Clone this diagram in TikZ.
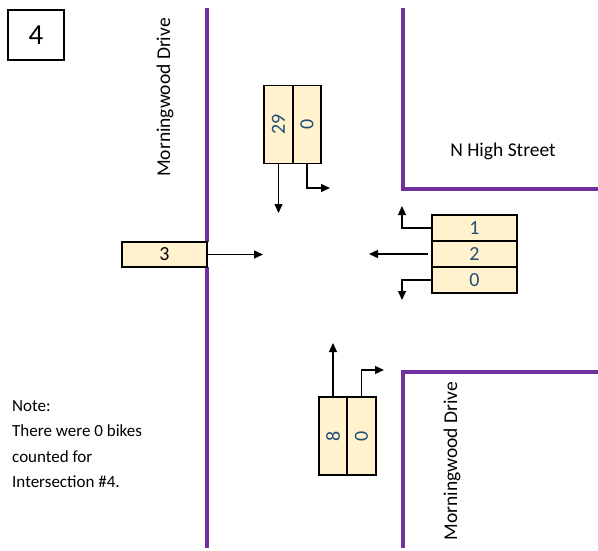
\documentclass[tikz,border=0pt]{standalone}
\usepackage{fontspec}
\setmainfont{Carlito}
\usepackage{xcolor}
\usetikzlibrary{arrows.meta}
\definecolor{roadpurple}{HTML}{7030A0}
\definecolor{cellfill}{HTML}{FFF2CC}
\definecolor{countblue}{HTML}{1F4E79}

\begin{document}
\begin{tikzpicture}[x=1pt, y=-1pt,
  road/.style={draw=roadpurple, line width=4pt},
  hcell/.style={rectangle, draw, line width=1.8pt, fill=cellfill, minimum width=85pt,
                minimum height=26pt, inner sep=0pt, text=countblue,
                font=\fontsize{20}{22}\selectfont},
  vcell/.style={rectangle, draw, line width=1.8pt, fill=cellfill, minimum width=28.5pt,
                minimum height=78pt, inner sep=0pt, text=countblue,
                font=\fontsize{20}{22}\selectfont},
  move/.style={-{Triangle[length=9pt,width=8pt]}, line width=1.3pt},
  streetname/.style={font=\fontsize{19.5}{22}\selectfont, inner sep=0pt}
]
\useasboundingbox (0,0) rectangle (598,550);

% Roads
\draw[road] (207,8) -- (207,242);
\draw[road] (207,267) -- (207,548);
\draw[road] (403,8) -- (403,189) -- (598,189);
\draw[road] (598,372) -- (403,372) -- (403,548);

% Intersection number
\node[rectangle, draw, line width=1.8pt, minimum width=56pt, minimum height=50pt,
      font=\fontsize{29}{30}\selectfont] at (36,35) (num) {4};

% Street names
\node[streetname, rotate=90] at (165,97.5) (westname)  {Morningwood Drive};
\node[streetname]            at (503,151)  (eastname)  {N High Street};
\node[streetname, rotate=90] at (452,461)  (southname) {Morningwood Drive};

% Southbound approach (north leg)
\node[vcell] at (278.5,124.5) (sb_thru)  {\rotatebox{90}{29}};
\node[vcell] at (307,124.5)   (sb_left)  {\rotatebox{90}{0}};
\coordinate (sb_thru_end) at (278.5,213);
\coordinate (sb_left_bend) at (307,188);
\coordinate (sb_left_end) at (330,188);
\draw[move] (sb_thru.south) -- (sb_thru_end);
\draw[move] (sb_left.south) -- (sb_left_bend) -- (sb_left_end);

% Eastbound approach (west leg)
\node[hcell, minimum height=25pt, text=black] at (164.5,254.5) (eb_thru) {3};
\coordinate (eb_thru_end) at (263,254.5);
\draw[move] (eb_thru.east) -- (eb_thru_end);

% Westbound approach (east leg)
\node[hcell] at (474.5,228) (wb_right) {1};
\node[hcell] at (474.5,254) (wb_thru)  {2};
\node[hcell] at (474.5,280) (wb_left)  {0};
\coordinate (wb_right_bend) at (402,228);
\coordinate (wb_right_end) at (402,206);
\coordinate (wb_thru_start) at (428,254);
\coordinate (wb_thru_end) at (369,254);
\coordinate (wb_left_bend) at (402,280);
\coordinate (wb_left_end) at (402,300);
\draw[move] (wb_right.west) -- (wb_right_bend) -- (wb_right_end);
\draw[move] (wb_thru_start) -- (wb_thru_end);
\draw[move] (wb_left.west) -- (wb_left_bend) -- (wb_left_end);

% Northbound approach (south leg)
\node[vcell] at (333,436)   (nb_thru)  {\rotatebox{90}{8}};
\node[vcell] at (361.5,436) (nb_right) {\rotatebox{90}{0}};
\coordinate (nb_thru_end) at (333,343);
\coordinate (nb_right_bend) at (361.5,370);
\coordinate (nb_right_end) at (384,370);
\draw[move] (nb_thru.north) -- (nb_thru_end);
\draw[move] (nb_right.north) -- (nb_right_bend) -- (nb_right_end);

% Note
\node[anchor=north west, align=left, inner sep=0pt,
      font=\fontsize{17}{25.5}\selectfont] at (12,400) (note)
  {Note:\\There were 0 bikes\\counted for\\Intersection \#4.};
\end{tikzpicture}
\end{document}
